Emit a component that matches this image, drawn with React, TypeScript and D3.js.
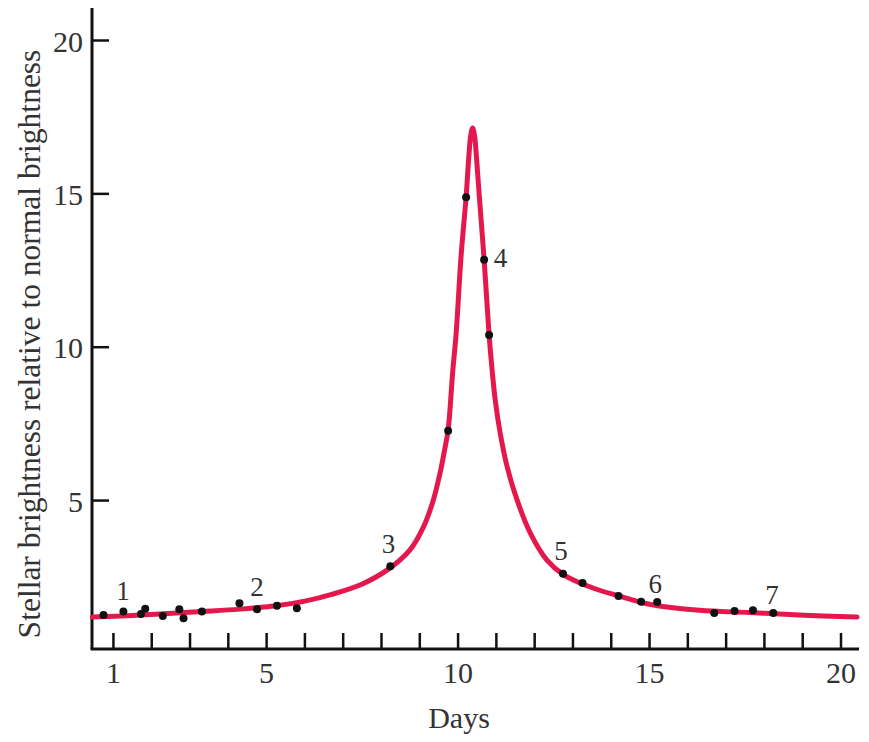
import { line, curveCatmullRom, range, scaleLinear } from "d3";

// smooth model curve
const curveDays = [0.45, 1.5, 2.2, 3.3, 4.3, 5.3, 6.0, 6.7, 7.5, 8.2, 8.75, 9.1, 9.35, 9.53, 9.64, 9.74, 9.86, 9.95, 10.08, 10.21, 10.28, 10.33, 10.38, 10.43, 10.48, 10.55, 10.68, 10.81, 10.88, 10.97, 11.1, 11.28, 11.54, 11.89, 12.32, 12.76, 13.54, 14.2, 15.0, 16.3, 17.6, 18.9, 20.42];
const curveValues = [1.2, 1.25, 1.3, 1.38, 1.46, 1.58, 1.72, 1.94, 2.28, 2.78, 3.4, 4.15, 5.0, 5.9, 6.6, 7.3, 9.2, 10.46, 13.0, 14.9, 16.2, 16.9, 17.15, 16.9, 16.2, 15.0, 12.85, 10.4, 9.37, 8.28, 7.2, 6.11, 5.02, 3.93, 3.06, 2.58, 2.14, 1.89, 1.62, 1.42, 1.35, 1.27, 1.2];

// observed points
const obsDays = [0.74, 1.26, 1.72, 1.83, 2.29, 2.72, 2.83, 3.31, 4.29, 4.75, 5.27, 5.79, 8.23, 9.74, 10.21, 10.68, 10.81, 12.74, 13.25, 14.19, 14.78, 15.2, 16.69, 17.22, 17.7, 18.23];
const obsValues = [1.27, 1.38, 1.3, 1.47, 1.24, 1.46, 1.16, 1.38, 1.65, 1.46, 1.57, 1.49, 2.86, 7.28, 14.89, 12.85, 10.4, 2.61, 2.31, 1.89, 1.7, 1.69, 1.33, 1.4, 1.42, 1.33];

// numbered annotations
const noteText = ["1", "2", "3", "4", "5", "6", "7"];
const noteDays = [1.25, 4.75, 8.18, 11.11, 12.69, 15.15, 18.2];
const noteValues = [1.76, 1.89, 3.29, 12.63, 3.06, 1.99, 1.63];

const xTickLabels = [1, 5, 10, 15, 20];
const yTickLabels = [5, 10, 15, 20];

const W = 869;
const H = 742;
const serif = "'Liberation Serif', 'DejaVu Serif', serif";
const red = "#e5184e";

export default function App() {
  const x = scaleLinear().domain([0.44, 20.47]).range([92, 859]);
  const y = scaleLinear().domain([0.16, 21.06]).range([649, 8]);

  const path = line<number>()
    .x((d) => x(d))
    .y((_, i) => y(curveValues[i]))
    .curve(curveCatmullRom.alpha(0.5))(curveDays);

  return (
    <div style={{ position: "absolute", left: 0, top: 0 }}>
      <svg width={W} height={H} style={{ display: "block", background: "#fff" }}>
        {/* axes */}
        <line x1={x(0.44)} x2={x(0.44)} y1={y(21.06)} y2={y(0.16)} stroke="#111" strokeWidth={3} />
        <line x1={x(0.44) - 1.5} x2={x(20.47)} y1={y(0.16)} y2={y(0.16)} stroke="#111" strokeWidth={3} />

        {range(1, 21).map((d) => (
          <line key={"xt" + d} x1={x(d)} x2={x(d)} y1={y(0.16)} y2={y(0.16) - 16} stroke="#111" strokeWidth={2.5} />
        ))}
        {xTickLabels.map((d) => (
          <text key={"xl" + d} x={x(d)} y={683} textAnchor="middle" fontFamily={serif} fontSize={30} fill="#333">
            {d}
          </text>
        ))}

        {yTickLabels.map((v) => (
          <g key={"yt" + v}>
            <line x1={x(0.44)} x2={x(0.44) + 17} y1={y(v)} y2={y(v)} stroke="#111" strokeWidth={2.5} />
            <text x={83} y={y(v) + 11} textAnchor="end" fontFamily={serif} fontSize={30} fill="#333">
              {v}
            </text>
          </g>
        ))}

        <text x={459} y={728} textAnchor="middle" fontFamily={serif} fontSize={30} fill="#333">
          Days
        </text>
        <text
          transform="translate(40,344) rotate(-90)"
          textAnchor="middle"
          fontFamily={serif}
          fontSize={31.5}
          fill="#333"
        >
          Stellar brightness relative to normal brightness
        </text>

        {/* curve */}
        <path d={path ?? ""} fill="none" stroke={red} strokeWidth={5} strokeLinejoin="round" strokeLinecap="round" />

        {/* observations */}
        {obsDays.map((d, i) => (
          <circle key={"o" + i} cx={x(d)} cy={y(obsValues[i])} r={4} fill="#111" />
        ))}

        {/* annotations */}
        {noteText.map((t, i) => (
          <text key={"n" + i} x={x(noteDays[i])} y={y(noteValues[i])} textAnchor="middle" fontFamily={serif} fontSize={27} fill="#333">
            {t}
          </text>
        ))}
      </svg>
    </div>
  );
}
